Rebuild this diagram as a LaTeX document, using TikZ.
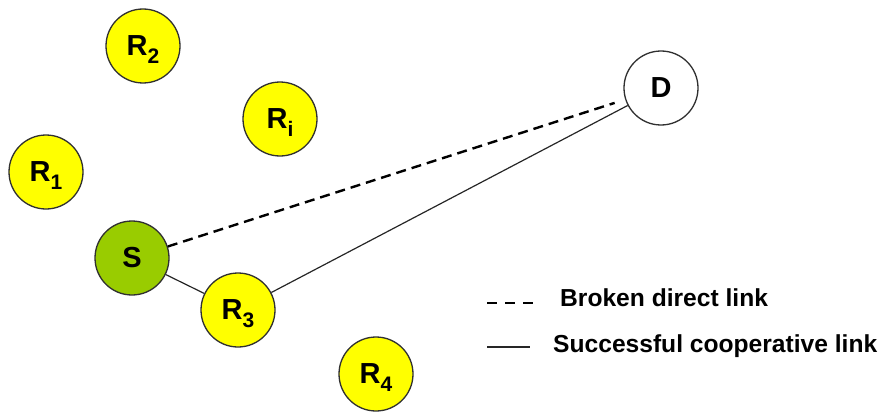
\documentclass[tikz,border=0pt]{standalone}
\usepackage{fontspec}
\setmainfont{Liberation Sans}
\usepackage{tikz}
\usetikzlibrary{positioning}
\definecolor{relayyellow}{HTML}{FFFF00}
\definecolor{srcgreen}{HTML}{99CC00}
\definecolor{rim}{HTML}{303030}
\newcommand{\rsub}[2]{#1\raisebox{-7.5pt}[0pt][0pt]{\fontsize{21}{21}\selectfont #2}}
\tikzset{station/.style={circle,draw=rim,line width=1.3pt,minimum size=74pt,inner sep=0pt,font=\fontsize{29}{29}\selectfont\bfseries},
relay/.style={station,fill=relayyellow},
broken/.style={draw=black,line width=2.4pt,dash pattern=on 10pt off 6pt},
coop/.style={draw=black!85,line width=1.2pt},
legtext/.style={font=\fontsize{24.6}{24.6}\selectfont\bfseries,anchor=west,inner sep=0pt}}
\begin{document}
\begin{tikzpicture}[x=1pt,y=-1pt]
\useasboundingbox (0,0) rectangle (885,412);
\node[relay] (r2) at (143,46) {\rsub{R}{2}};
\node[relay] (ri) at (280,119) {\rsub{R}{i}};
\node[relay] (r1) at (46,172) {\rsub{R}{1}};
\node[station,fill=srcgreen] (s) at (132,258) {S};
\node[relay] (r3) at (238,310) {\rsub{R}{3}};
\node[relay] (r4) at (376,374) {\rsub{R}{4}};
\node[station,fill=white] (d) at (661,88) {D};
\draw[broken,shorten >=11pt] (s)--(d);
\draw[coop] (s)--(r3);
\draw[coop] (r3)--(d);
% legend
\coordinate (b1) at (487,303);
\coordinate (b2) at (533,303);
\coordinate (c1) at (487,347);
\coordinate (c2) at (530,347);
\draw[draw=black,line width=2.2pt,dash pattern=on 10pt off 8pt] (b1)--(b2);
\draw[coop] (c1)--(c2);
\node[legtext] (lb) at (560,298) {Broken direct link};
\node[legtext] (lc) at (553,346) {Successful cooperative link};
\end{tikzpicture}
\end{document}
